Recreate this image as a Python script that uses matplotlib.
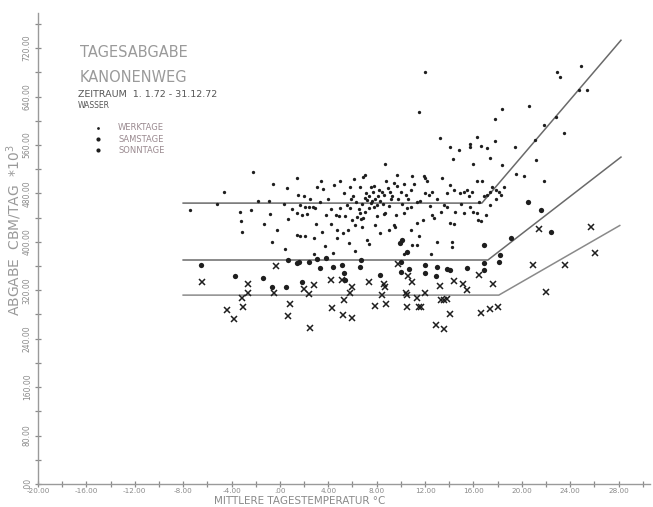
import matplotlib
matplotlib.use("Agg")
import matplotlib.pyplot as plt
from matplotlib.ticker import MultipleLocator, FixedLocator

# ---------------- data ----------------
wt_temp = [12.0, 22.9, 23.2, 24.9, 24.7, 25.4, 11.5, 18.4, 20.6, 17.8, 22.8, 21.8, 23.5, 13.2, 21.1,
           14.1, 14.8, 15.7, 15.7, 16.3, 16.6, 17.1, 17.8, 19.4, 14.3, 16.0, 17.4, 18.4, 21.2, 8.7,
           19.5, 20.2, 21.8, -2.2, 1.4, -0.6, 0.6, -4.6, -5.2, -7.4, -3.3, -3.2, -3.1, -2.4, -1.8,
           -0.9, -0.85, -0.65, 0.45, 0.7, 1.4, 1.7, 1.5, 1.7, 2.1, 2.4, 2.7, 2.9, 1.4, 1.8,
           2.2, 2.1, 2.8, 3.1, 3.6, 3.5, 3.8, 4.45, 4.6, 4.9, 5.0, 4.7, 5.2, 4.7, 4.4,
           5.3, 5.55, 5.8, 5.4, 6.0, 5.8, 6.1, 6.05, 6.4, 6.7, 6.9, 6.25, 6.8, 6.9, 6.6,
           7.2, 7.35, 7.5, 7.6, 7.8, 8.0, 7.35, 7.5, 7.8, 8.2, 8.45, 8.6, 8.9, 9.1, 9.3,
           8.0, 8.6, 7.2, 7.35, 7.9, 8.7, 9.7, 10.0, 10.4, 10.8, 10.95, 11.9, 12.0, 10.8, 10.5,
           11.35, 11.6, 10.25, 9.4, 9.5, 11.35, 11.8, 11.5, 11.35, 12.6, 12.7, 12.0, 12.3, 12.6, 12.95,
           13.8, 14.1, 14.4, 13.56, 13.8, 14.1, 14.4, 14.2, 14.2, 14.5, 14.9, 15.2, 15.5, 15.2, 15.6,
           15.9, 16.0, 16.3, 16.4, 16.6, 16.3, 16.7, 16.9, 17.15, 17.0, 17.4, 17.56, 17.85, 17.4, 18.1,
           18.5, 10.9,
           7.0, 7.1, 7.7, 7.9, 8.3, 8.1, 8.5, 9.0, 9.2, 6.5, 6.8, 7.0, 6.3, 5.9, 6.6,
           9.8, 10.1, 10.6, 9.6, 8.8, 9.4, 10.3, 4.0, 3.3, 2.5, 1.0, 0.3, -1.3, -0.2, 3.0,
           4.2, 4.2, 5.6, 8.3, 9.0, 10.8, 12.4, 13.0, 13.3, 15.0, 15.7, 16.5, 17.9, 18.3, 12.2,
           11.1, 13.4, 2.0, 3.4, 5.0, 7.0, 9.7, 5.7, 3.7, 2.8, 10.3, 12.5, 6.2]
wt_abgabe = [680, 681, 673, 691, 650, 650, 615, 619, 624, 603, 607, 593, 580, 571, 568,
             556, 551, 562, 556, 574, 559, 555, 566, 556, 537, 529, 538, 527, 535, 529,
             512, 509, 501, 515, 506, 495, 489, 482, 463, 452, 449, 435, 417, 453, 467,
             467, 446, 400, 389, 437, 411, 409, 478, 461, 458, 457, 458, 456, 447, 445,
             446, 409, 406, 490, 487, 417, 445, 494, 445, 442, 456, 420, 415, 406, 382,
             480, 461, 456, 442, 436, 491, 504, 476, 441, 437, 440, 428, 425, 507, 491,
             469, 475, 464, 467, 458, 461, 456, 491, 493, 486, 483, 478, 489, 483, 475,
             442, 446, 403, 397, 428, 447, 492, 483, 478, 486, 508, 509, 505, 458, 456,
             465, 467, 447, 428, 425, 431, 436, 409, 395, 444, 439, 480, 478, 482, 400,
             480, 494, 486, 461, 458, 431, 430, 400, 392, 450, 480, 483, 486, 447, 475,
             483, 450, 447, 436, 434, 500, 500, 475, 478, 445, 483, 491, 485, 461, 483,
             491, 395,
             472, 480, 482, 470, 468, 475, 462, 460, 470, 455, 462, 450, 465, 470, 448,
             470, 462, 470, 445, 500, 497, 495, 470, 465, 470, 455, 462, 430, 420, 430,
             455, 430, 420, 415, 420, 420, 460, 470, 450, 462, 458, 465, 470, 478, 500,
             495, 505, 475, 500, 500, 510, 510, 398, 393, 380, 380, 380, 385]

sa_temp = [-6.5, -3.7, -1.4, -0.65, 0.5, 0.7, 1.4, 1.55, 2.4, 3.1, 3.8, 3.3, 4.4, 5.1, 5.3,
           5.4, 1.8, 6.7, 6.6, 8.3, 10.0, 10.0, 10.7, 12.0, 12.0, 13.0, 13.8, 14.05, 12.9, 15.5,
           16.9, 16.9, 19.1, 18.2, 16.9, 18.1, 9.9, 10.1, 10.5, 20.5, 22.4, 21.6]
sa_abgabe = [362, 344, 340, 326, 325, 370, 365, 367, 367, 371, 373, 356, 359, 362, 348,
             337, 334, 370, 359, 345, 367, 351, 355, 362, 348, 358, 355, 354, 344, 356,
             365, 354, 406, 378, 395, 367, 398, 403, 384, 466, 417, 453]

so_temp = [-6.45, -4.4, -3.8, -3.1, -3.05, -2.6, -2.6, -0.3, -0.45, 0.8, 0.7, 2.0, 2.4, 2.8, 2.5,
           4.2, 5.3, 5.1, 6.0, 5.8, 4.3, 5.2, 6.0, 7.35, 7.9, 8.8, 8.6, 8.7, 8.45, 9.8,
           10.6, 10.9, 10.4, 10.5, 10.5, 11.5, 11.7, 11.35, 12.0, 13.2, 13.3, 13.6, 13.8, 14.05, 12.9,
           13.6, 14.4, 15.1, 15.5, 16.45, 17.6, 16.65, 17.4, 18.0, 20.95, 23.6, 22.0, 25.7, 26.06, 21.4]
so_abgabe = [333, 287, 273, 308, 292, 331, 315, 360, 315, 297, 278, 322, 314, 329, 257,
             337, 304, 337, 326, 316, 290, 279, 275, 334, 294, 298, 331, 326, 312, 364,
             343, 333, 315, 312, 293, 293, 293, 307, 316, 327, 304, 304, 305, 281, 263,
             256, 336, 331, 321, 345, 331, 283, 289, 293, 362, 362, 317, 425, 381, 422]

# piecewise regression lines (break points)
wt_line_temp = [-8.0, 16.7, 28.2]
wt_line_abgabe = [464, 464, 733]
sa_line_temp = [-8.0, 17.2, 28.2]
sa_line_abgabe = [370, 370, 540]
so_line_temp = [-8.0, 18.1, 28.1]
so_line_abgabe = [312, 312, 427]

x_ticks = [-20, -16, -12, -8, -4, 0, 4, 8, 12, 16, 20, 24, 28]
x_ticklabels = ["-20.00", "-16.00", "-12.00", "-8.00", "-4.00", ".00", "4.00", "8.00",
                "12.00", "16.00", "20.00", "24.00", "28.00"]
y_ticks = [0, 80, 160, 240, 320, 400, 480, 560, 640, 720]
y_ticklabels = [".00", "80.00", "160.00", "240.00", "320.00", "400.00", "480.00",
                "560.00", "640.00", "720.00"]

series_labels = ["WERKTAGE", "SAMSTAGE", "SONNTAGE"]

# ---------------- figure ----------------
W, H = 653, 507
fig = plt.figure(figsize=(W / 100, H / 100), dpi=100)
ax = fig.add_axes([38 / W, (507 - 484) / H, (650 - 38) / W, (484 - 13) / H])

txt_col = "#8a8a8a"
line_col = "#6a6a6a"
pt_col = "#1e1e1e"

ax.set_xlim(-20, 30.6)
ax.set_ylim(0, 778)

for s in ["top", "right"]:
    ax.spines[s].set_visible(False)
for s in ["left", "bottom"]:
    ax.spines[s].set_color("#9a9a9a")
    ax.spines[s].set_linewidth(1.0)

ax.xaxis.set_major_locator(FixedLocator(x_ticks))
ax.xaxis.set_minor_locator(MultipleLocator(2))
ax.yaxis.set_major_locator(FixedLocator(y_ticks))
ax.yaxis.set_minor_locator(MultipleLocator(40))
ax.set_xticklabels(x_ticklabels)
ax.set_yticklabels(y_ticklabels, rotation=90, va="center")
ax.tick_params(which="both", direction="inout", length=5, width=0.9, color="#8a8a8a",
               labelsize=5.5, labelcolor=txt_col, pad=2)
ax.tick_params(axis="x", which="both", pad=0.5, labelsize=5.2)

# regression lines
ax.plot(wt_line_temp, wt_line_abgabe, color=line_col, lw=1.1, zorder=2)
ax.plot(sa_line_temp, sa_line_abgabe, color=line_col, lw=1.1, zorder=2)
ax.plot(so_line_temp, so_line_abgabe, color="#8a8a8a", lw=1.1, zorder=2)

# points
ax.plot(wt_temp, wt_abgabe, "o", ms=2.4, color=pt_col, mew=0, zorder=3)
ax.plot(sa_temp, sa_abgabe, "o", ms=3.8, color=pt_col, mew=0, zorder=3)
ax.plot(so_temp, so_abgabe, "x", ms=4.0, mew=1.1, color=pt_col, zorder=3)

# header texts
ax.text(0.0686, 0.917, "TAGESABGABE", transform=ax.transAxes, fontsize=10.5,
        color="#9a9a9a", va="center", ha="left", family="DejaVu Sans")
ax.text(0.0686, 0.862, "KANONENWEG", transform=ax.transAxes, fontsize=10.5,
        color="#9a9a9a", va="center", ha="left", family="DejaVu Sans")
ax.text(0.065, 0.828, "ZEITRAUM  1. 1.72 - 31.12.72", transform=ax.transAxes, fontsize=6.8,
        color="#555555", va="center", ha="left")
ax.text(0.065, 0.803, "WASSER", transform=ax.transAxes, fontsize=5.5,
        color="#555555", va="center", ha="left")

# legend
leg_y = [0.756, 0.732, 0.709]
ax.plot([0.098], [leg_y[0]], "o", ms=2.0, color=pt_col, mew=0, transform=ax.transAxes, clip_on=False)
ax.plot([0.098], [leg_y[1]], "o", ms=3.0, color=pt_col, mew=0, transform=ax.transAxes, clip_on=False)
ax.plot([0.098], [leg_y[2]], "o", ms=3.0, color=pt_col, mew=0, transform=ax.transAxes, clip_on=False)
for yy, lab in zip(leg_y, series_labels):
    ax.text(0.131, yy, lab, transform=ax.transAxes, fontsize=6, color="#9a8a90",
            va="center", ha="left")

# axis labels
fig.text(14 / W, (507 - 230) / H, "ABGABE  CBM/TAG  *10$^3$", rotation=90, fontsize=10,
         color="#9a9a9a", ha="center", va="center")
fig.text(300 / W, 0.5 / H, "MITTLERE TAGESTEMPERATUR °C", fontsize=7.5,
         color="#8a8a8a", ha="center", va="bottom")

fig.savefig("out.png", dpi=100, facecolor="white")
